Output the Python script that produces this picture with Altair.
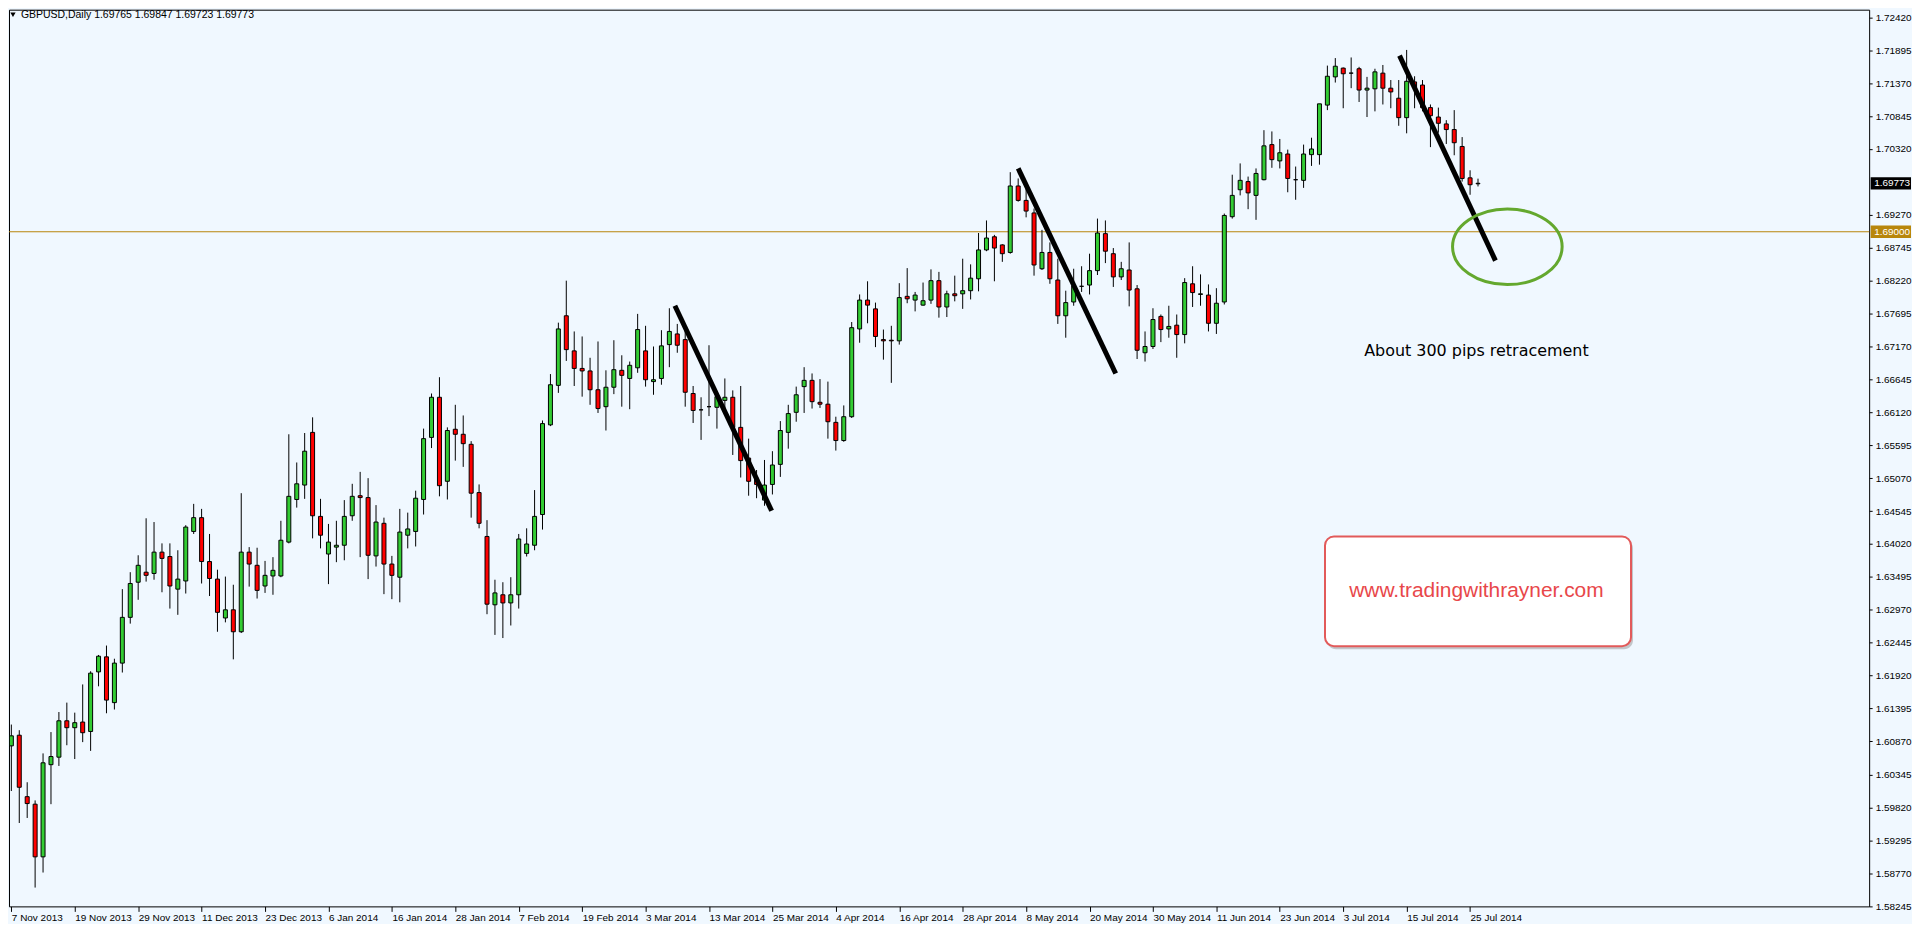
import json
import altair as alt
import pandas as pd

# ---------------- data (GBPUSD daily) ----------------
opens = [1.6080, 1.6097, 1.5999, 1.5987, 1.5903, 1.6050, 1.6062, 1.6120, 1.6109, 1.6118,
         1.6103, 1.6198, 1.6222, 1.6149, 1.6212, 1.6285, 1.6341, 1.6357, 1.6355, 1.6389,
         1.6382, 1.6330, 1.6343, 1.6422, 1.6444, 1.6374, 1.6346, 1.6284, 1.6297, 1.6262,
         1.6389, 1.6368, 1.6335, 1.6351, 1.6351, 1.6405, 1.6473, 1.6496, 1.6580, 1.6446,
         1.6386, 1.6397, 1.6400, 1.6447, 1.6479, 1.6476, 1.6383, 1.6435, 1.6370, 1.6349,
         1.6416, 1.6422, 1.6473, 1.6572, 1.6636, 1.6502, 1.6585, 1.6577, 1.6561, 1.6484,
         1.6414, 1.6305, 1.6321, 1.6308, 1.6321, 1.6387, 1.6400, 1.6449, 1.6592, 1.6655,
         1.6766, 1.6710, 1.6682, 1.6678, 1.6648, 1.6621, 1.6652, 1.6679, 1.6666, 1.6683,
         1.6710, 1.6661, 1.6666, 1.6720, 1.6737, 1.6728, 1.6642, 1.6616, 1.6621, 1.6620,
         1.6631, 1.6636, 1.6588, 1.6539, 1.6507, 1.6472, 1.6497, 1.6529, 1.6580, 1.6612,
         1.6653, 1.6663, 1.6628, 1.6625, 1.6596, 1.6567, 1.6605, 1.6745, 1.6791, 1.6777,
         1.6728, 1.6727, 1.6726, 1.6797, 1.6791, 1.6783, 1.6791, 1.6822, 1.6780, 1.6801,
         1.6801, 1.6806, 1.6825, 1.6871, 1.6892, 1.6879, 1.6867, 1.6973, 1.6950, 1.6930,
         1.6841, 1.6867, 1.6823, 1.6766, 1.6788, 1.6813, 1.6815, 1.6838, 1.6897, 1.6865,
         1.6828, 1.6839, 1.6809, 1.6707, 1.6717, 1.6765, 1.6745, 1.6751, 1.6736, 1.6817,
         1.6800, 1.6799, 1.6754, 1.6788, 1.6924, 1.6967, 1.6980, 1.6958, 1.6983, 1.7039,
         1.7013, 1.7024, 1.6983, 1.6982, 1.7023, 1.7023, 1.7102, 1.7147, 1.7161, 1.7153,
         1.7160, 1.7126, 1.7128, 1.7153, 1.7129, 1.7113, 1.7082, 1.7139, 1.7134, 1.7098,
         1.7083, 1.7072, 1.7063, 1.7036, 1.6986, 1.69765]
highs = [1.6114, 1.6105, 1.6022, 1.5993, 1.6068, 1.6102, 1.6134, 1.6149, 1.6133, 1.6178,
         1.6199, 1.6225, 1.6240, 1.6219, 1.6330, 1.6357, 1.6384, 1.6443, 1.6437, 1.6403,
         1.6403, 1.6392, 1.6432, 1.6466, 1.6458, 1.6418, 1.6361, 1.6350, 1.6337, 1.6483,
         1.6397, 1.6396, 1.6375, 1.6381, 1.6439, 1.6577, 1.6532, 1.6579, 1.6604, 1.6474,
         1.6434, 1.6439, 1.6472, 1.6498, 1.6517, 1.6507, 1.6464, 1.6444, 1.6383, 1.6458,
         1.6452, 1.6487, 1.6586, 1.6642, 1.6668, 1.6588, 1.6624, 1.6607, 1.6566, 1.6497,
         1.6440, 1.6345, 1.6341, 1.6349, 1.6418, 1.6427, 1.6488, 1.6599, 1.6673, 1.6755,
         1.6822, 1.6741, 1.6733, 1.6699, 1.6725, 1.6679, 1.6727, 1.6703, 1.6693, 1.6769,
         1.6750, 1.6717, 1.6743, 1.6778, 1.6753, 1.6743, 1.6654, 1.6636, 1.6719, 1.6645,
         1.6666, 1.6647, 1.6654, 1.6570, 1.6520, 1.6536, 1.6550, 1.6598, 1.6624, 1.6653,
         1.6684, 1.6674, 1.6665, 1.6661, 1.6605, 1.6623, 1.6756, 1.6800, 1.6821, 1.6787,
         1.6744, 1.6750, 1.6818, 1.6842, 1.6804, 1.6819, 1.6840, 1.6836, 1.6806, 1.6830,
         1.6857, 1.6848, 1.6898, 1.6918, 1.6895, 1.6880, 1.6995, 1.6985, 1.6968, 1.6937,
         1.6903, 1.6883, 1.6857, 1.6806, 1.6841, 1.6845, 1.6865, 1.6921, 1.6918, 1.6874,
         1.6852, 1.6883, 1.6815, 1.6741, 1.6778, 1.6768, 1.6782, 1.6768, 1.6826, 1.6845,
         1.6832, 1.6816, 1.6810, 1.6929, 1.6991, 1.7009, 1.6988, 1.7001, 1.7062, 1.7060,
         1.7048, 1.7031, 1.7004, 1.7039, 1.7050, 1.7104, 1.7165, 1.7177, 1.7162, 1.7178,
         1.7163, 1.7147, 1.7160, 1.7166, 1.7142, 1.7142, 1.7190, 1.7148, 1.7142, 1.7103,
         1.7098, 1.7078, 1.7094, 1.7051, 1.6998, 1.69847]
lows = [1.6008, 1.5957, 1.5965, 1.5854, 1.5878, 1.5987, 1.6048, 1.6081, 1.6059, 1.6086,
        1.6072, 1.6175, 1.6132, 1.6138, 1.6197, 1.6275, 1.6313, 1.6342, 1.6345, 1.6325,
        1.6299, 1.6289, 1.6323, 1.6418, 1.6339, 1.6319, 1.6262, 1.6277, 1.6218, 1.6260,
        1.6334, 1.6315, 1.6324, 1.6321, 1.6349, 1.6403, 1.6460, 1.6474, 1.6411, 1.6395,
        1.6338, 1.6373, 1.6376, 1.6439, 1.6381, 1.6346, 1.6366, 1.6322, 1.6314, 1.6309,
        1.6395, 1.6398, 1.6449, 1.6555, 1.6478, 1.6473, 1.6535, 1.6525, 1.6444, 1.6427,
        1.6290, 1.6257, 1.6252, 1.6272, 1.6299, 1.6382, 1.6392, 1.6425, 1.6590, 1.6643,
        1.6694, 1.6654, 1.6637, 1.6624, 1.6611, 1.6583, 1.6641, 1.6621, 1.6617, 1.6675,
        1.6653, 1.6640, 1.6656, 1.6684, 1.6707, 1.6621, 1.6595, 1.6568, 1.6606, 1.6586,
        1.6613, 1.6544, 1.6508, 1.6479, 1.6475, 1.6463, 1.6481, 1.6509, 1.6554, 1.6597,
        1.6611, 1.6618, 1.6619, 1.6570, 1.6551, 1.6565, 1.6603, 1.6723, 1.6754, 1.6716,
        1.6696, 1.6659, 1.6720, 1.6786, 1.6773, 1.6782, 1.6785, 1.6763, 1.6764, 1.6789,
        1.6777, 1.6792, 1.6805, 1.6869, 1.6821, 1.6852, 1.6865, 1.6948, 1.6923, 1.6830,
        1.6839, 1.6817, 1.6753, 1.6731, 1.6782, 1.6804, 1.6800, 1.6831, 1.6850, 1.6812,
        1.6823, 1.6781, 1.6697, 1.6693, 1.6713, 1.6724, 1.6731, 1.6699, 1.6722, 1.6780,
        1.6782, 1.6741, 1.6737, 1.6784, 1.6921, 1.6958, 1.6936, 1.6919, 1.6982, 1.7002,
        1.7001, 1.6963, 1.6951, 1.6970, 1.7005, 1.7007, 1.7094, 1.7138, 1.7097, 1.7129,
        1.7107, 1.7083, 1.7092, 1.7103, 1.7097, 1.7069, 1.7057, 1.7097, 1.7092, 1.7035,
        1.7058, 1.7040, 1.7022, 1.6980, 1.6959, 1.69723]
closes = [1.6096, 1.6014, 1.5988, 1.5903, 1.6053, 1.6063, 1.6120, 1.6109, 1.6117, 1.6101,
          1.6196, 1.6223, 1.6153, 1.6212, 1.6285, 1.6339, 1.6368, 1.6352, 1.6389, 1.6379,
          1.6335, 1.6346, 1.6429, 1.6444, 1.6374, 1.6347, 1.6293, 1.6297, 1.6262, 1.6389,
          1.6370, 1.6328, 1.6352, 1.6360, 1.6408, 1.6478, 1.6498, 1.6550, 1.6447, 1.6416,
          1.6405, 1.6400, 1.6446, 1.6478, 1.6476, 1.6384, 1.6437, 1.6370, 1.6352, 1.6421,
          1.6426, 1.6475, 1.6570, 1.6636, 1.6495, 1.6583, 1.6577, 1.6562, 1.6483, 1.6435,
          1.6306, 1.6324, 1.6308, 1.6321, 1.6410, 1.6402, 1.6446, 1.6594, 1.6656, 1.6745,
          1.6712, 1.6682, 1.6678, 1.6648, 1.6618, 1.6652, 1.6680, 1.6671, 1.6687, 1.6744,
          1.6664, 1.6664, 1.6718, 1.6741, 1.6719, 1.6644, 1.6615, 1.6616, 1.6621, 1.6637,
          1.6636, 1.6588, 1.6535, 1.6502, 1.6497, 1.6496, 1.6528, 1.6583, 1.6610, 1.6640,
          1.6663, 1.6629, 1.6625, 1.6597, 1.6567, 1.6605, 1.6747, 1.6791, 1.6783, 1.6733,
          1.6726, 1.6726, 1.6795, 1.6793, 1.6799, 1.6790, 1.6822, 1.6780, 1.6801, 1.6798,
          1.6806, 1.6826, 1.6871, 1.6890, 1.6874, 1.6865, 1.6973, 1.6950, 1.6933, 1.6847,
          1.6867, 1.6825, 1.6766, 1.6787, 1.6814, 1.6813, 1.6838, 1.6898, 1.6869, 1.6828,
          1.6841, 1.6807, 1.6711, 1.6717, 1.6760, 1.6744, 1.6749, 1.6736, 1.6819, 1.6803,
          1.6801, 1.6754, 1.6786, 1.6926, 1.6958, 1.6982, 1.6962, 1.6993, 1.7037, 1.7015,
          1.7026, 1.6985, 1.6983, 1.7024, 1.7032, 1.7104, 1.7148, 1.7164, 1.7152, 1.7153,
          1.7126, 1.7129, 1.7155, 1.7129, 1.7123, 1.7082, 1.7140, 1.7131, 1.7098, 1.7085,
          1.7073, 1.7063, 1.7042, 1.6985, 1.6975, 1.69773]

date_labels = ["7 Nov 2013", "19 Nov 2013", "29 Nov 2013", "11 Dec 2013", "23 Dec 2013",
               "6 Jan 2014", "16 Jan 2014", "28 Jan 2014", "7 Feb 2014", "19 Feb 2014",
               "3 Mar 2014", "13 Mar 2014", "25 Mar 2014", "4 Apr 2014", "16 Apr 2014",
               "28 Apr 2014", "8 May 2014", "20 May 2014", "30 May 2014", "11 Jun 2014",
               "23 Jun 2014", "3 Jul 2014", "15 Jul 2014", "25 Jul 2014"]
label_step = 8  # one date label every 8 bars

y_ticks = [1.58245, 1.58770, 1.59295, 1.59820, 1.60345, 1.60870, 1.61395, 1.61920,
           1.62445, 1.62970, 1.63495, 1.64020, 1.64545, 1.65070, 1.65595, 1.66120,
           1.66645, 1.67170, 1.67695, 1.68220, 1.68745, 1.69270, 1.70320,
           1.70845, 1.71370, 1.71895, 1.72420]

level_price = 1.69000
last_price = 1.69773
header = "GBPUSD,Daily  1.69765 1.69847 1.69723 1.69773"

# trend lines (bar index, price)
trend_id = [1, 1, 2, 2, 3, 3]
trend_i = [83.7, 95.9, 127.0, 139.3, 175.1, 187.2]
trend_p = [1.6782, 1.6455, 1.7001, 1.6674, 1.7181, 1.6854]

ellipse_i = [188.7]
ellipse_p = [1.6876]

note_text = ["About 300 pips retracement"]
note_i = [184.8]
note_p = [1.6709]

box_i = [165.7]
box_i2 = [204.3]
box_p = [1.6414]
box_p2 = [1.6239]
box_text = ["www.tradingwithrayner.com"]
box_text_i = [184.8]
box_text_p = [1.6327]

# ---------------- chart ----------------
GREEN = "#33CC33"
RED = "#FF0000"
GOLD = "#B8860B"
BG = "#F0F8FF"
FONT = "Liberation Sans"

W, H = 1867, 900

df = pd.DataFrame({"i": list(range(len(opens))), "o": opens, "h": highs, "l": lows, "c": closes})

xs = alt.Scale(domain=[0.333, 233.71], nice=False, zero=False)
ys = alt.Scale(domain=[1.58240, 1.72542], nice=False, zero=False)

label_expr = f"{json.dumps(date_labels)}[round(datum.value / {label_step})]"
xaxis = alt.Axis(values=list(range(0, label_step * len(date_labels), label_step)),
                 labelExpr=label_expr, orient="bottom", title=None, grid=False,
                 domain=False, ticks=True, tickColor="black", tickSize=5,
                 labelAlign="left", labelBaseline="top", labelPadding=1,
                 labelFont=FONT, labelFontSize=10, labelColor="black",
                 labelOverlap=False, labelFlush=False, labelBound=False)
yaxis = alt.Axis(values=y_ticks, format=".5f", orient="right", title=None, grid=False,
                 domain=False, tickColor="black", tickSize=3, labelPadding=3,
                 labelFont=FONT, labelFontSize=10, labelColor="black",
                 labelOverlap=False, labelFlush=False, labelBaseline="middle")

X = lambda f: alt.X(f, type="quantitative", scale=xs, axis=xaxis)
Y = lambda f: alt.Y(f, type="quantitative", scale=ys, axis=yaxis)

base = alt.Chart(df)
wicks = base.mark_rule(color="black", strokeWidth=1, clip=True).encode(
    x=X("i"), y=Y("l"), y2="h")
bodies = base.mark_bar(width=4, stroke="black", strokeWidth=1, clip=True).encode(
    x=X("i"), y=Y("o"), y2="c",
    color=alt.when("datum.c >= datum.o").then(alt.value(GREEN)).otherwise(alt.value(RED)))

level = alt.Chart(pd.DataFrame({"p": [level_price]})).mark_rule(
    color=GOLD, strokeWidth=1).encode(y=Y("p"))

trend_df = pd.DataFrame({"id": trend_id, "i": trend_i, "p": trend_p})
trends = alt.Chart(trend_df).mark_line(color="black", strokeWidth=5, strokeCap="butt").encode(
    x=X("i"), y=Y("p"), detail="id:N")

ell = alt.Chart(pd.DataFrame({"i": ellipse_i, "p": ellipse_p})).mark_point(
    shape="M -1 0 A 1 0.69 0 1 1 1 0 A 1 0.69 0 1 1 -1 0 Z",
    size=12100, filled=False, stroke="#64A82E", strokeWidth=3, opacity=1).encode(
    x=X("i"), y=Y("p"))

note = alt.Chart(pd.DataFrame({"t": note_text, "i": note_i, "p": note_p})).mark_text(
    font="DejaVu Sans", fontSize=16, color="black", align="center", baseline="middle").encode(
    x=X("i"), y=Y("p"), text="t:N")

box_df = pd.DataFrame({"i": box_i, "i2": box_i2, "p": box_p, "p2": box_p2})
shadow = alt.Chart(box_df).mark_rect(cornerRadius=9, fill="#8A8A8A", opacity=0.45,
                                     xOffset=2, x2Offset=2, yOffset=3, y2Offset=3).encode(
    x=X("i"), x2="i2", y=Y("p"), y2="p2")
box = alt.Chart(box_df).mark_rect(cornerRadius=9, fill="white", stroke="#E25A5A",
                                  strokeWidth=2).encode(
    x=X("i"), x2="i2", y=Y("p"), y2="p2")
box_lbl = alt.Chart(pd.DataFrame({"t": box_text, "i": box_text_i, "p": box_text_p})).mark_text(
    font=FONT, fontSize=21, color="#E8474A", align="center", baseline="middle").encode(
    x=X("i"), y=Y("p"), text="t:N")

marker_df = pd.DataFrame({"p": [last_price, level_price], "bg": ["black", GOLD]})
marker_box = alt.Chart(marker_df).transform_calculate(
    lo="datum.p - 0.00098", hi="datum.p + 0.00098").mark_rect().encode(
    x=alt.value(W + 1.5), x2=alt.value(W + 42),
    y=Y("lo"), y2="hi", color=alt.Color("bg:N", scale=None))
marker_txt = alt.Chart(marker_df).mark_text(
    font=FONT, fontSize=10, color="white", align="left", baseline="middle").encode(
    x=alt.value(W + 5), y=Y("p"), text=alt.Text("p:Q", format=".5f"))

head_tri = alt.Chart(pd.DataFrame({"t": [header]})).mark_point(
    shape="triangle-down", filled=True, color="black", size=28, opacity=1).encode(
    x=alt.value(4), y=alt.value(5))
head = alt.Chart(pd.DataFrame({"t": [header]})).mark_text(
    font=FONT, fontSize=10.5, color="black", align="left", baseline="middle").encode(
    x=alt.value(12), y=alt.value(5.5), text="t:N")

chart = alt.layer(
    level, wicks, bodies, trends, ell, note, shadow, box, box_lbl,
    marker_box, marker_txt, head_tri, head
).properties(
    width=W, height=H, padding=0, background=BG
).configure_view(
    fill=BG, stroke="black", strokeWidth=1
)

chart.save("out.html", embed_options={"renderer": "svg", "actions": False})
